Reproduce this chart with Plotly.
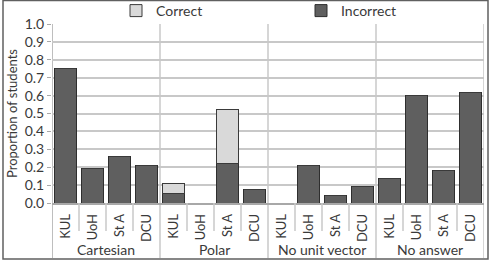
import plotly.graph_objects as go

groups = ["Cartesian", "Polar", "No unit vector", "No answer"]
schools = ["KUL", "UoH", "St A", "DCU"]
incorrect = [0.75, 0.19, 0.26, 0.21,
             0.055, 0.0, 0.22, 0.075,
             0.0, 0.21, 0.04, 0.095,
             0.135, 0.60, 0.18, 0.62]
correct = [0.0, 0.0, 0.0, 0.0,
           0.055, 0.0, 0.30, 0.0,
           0.0, 0.0, 0.0, 0.0,
           0.0, 0.0, 0.0, 0.0]
y_ticks = [0.0, 0.1, 0.2, 0.3, 0.4, 0.5, 0.6, 0.7, 0.8, 0.9, 1.0]

n_sub = len(schools)
xs = list(range(len(groups) * n_sub))
tick_text = schools * len(groups)

FONT = "Lato"
TXT = "#3a3a3a"
GRID = "#c8c8c8"

fig = go.Figure()
fig.add_trace(go.Bar(x=xs, y=incorrect, name="Incorrect",
                     marker=dict(color="#5f5f5f", line=dict(color="#2e2e2e", width=1))))
fig.add_trace(go.Bar(x=xs, y=correct, name="Correct",
                     marker=dict(color="#d9d9d9", line=dict(color="#3a3a3a", width=1))))

# plot-area geometry in pixels for paper conversions
L, R, T, B = 52, 8, 24, 57
W, H = 492, 260
pw, ph = W - L - R, H - T - B

def py(pix):
    return (H - B - pix) / ph

def px(pix):
    return (pix - L) / pw

shapes = []
# group boundaries (vertical gridlines extending through label area)
for i in range(len(groups) + 1):
    xb = i * n_sub - 0.5
    shapes.append(dict(type="line", xref="x", yref="paper", x0=xb, x1=xb,
                       y0=py(258), y1=1, line=dict(color=GRID if i > 0 else "#a8a8a8", width=1.5),
                       layer="below"))
# category separators within groups
for i in range(len(groups)):
    for j in range(1, n_sub):
        xb = i * n_sub + j - 0.5
        shapes.append(dict(type="line", xref="x", yref="paper", x0=xb, x1=xb,
                           y0=py(231), y1=0, line=dict(color=GRID, width=1.5)))
# outer chart border
shapes.append(dict(type="rect", xref="paper", yref="paper",
                   x0=px(3), x1=px(488), y0=py(259), y1=py(0.5),
                   line=dict(color="#606060", width=1.5)))

annotations = []
for i, g in enumerate(groups):
    annotations.append(dict(text=g, x=i * n_sub + (n_sub - 1) / 2, xref="x",
                            y=py(249), yref="paper", showarrow=False,
                            xanchor="center", yanchor="middle",
                            font=dict(family=FONT, size=14, color=TXT)))

fig.update_layout(
    width=W, height=H,
    margin=dict(l=L, r=R, t=T, b=B, autoexpand=False),
    paper_bgcolor="white", plot_bgcolor="white",
    barmode="stack", bargap=0.22,
    font=dict(family=FONT, size=13, color=TXT),
    shapes=shapes, annotations=annotations,
    showlegend=True,
    legend=dict(orientation="h", traceorder="reversed",
                x=px(116), xanchor="left", y=py(-5), yanchor="top",
                entrywidth=140, entrywidthmode="pixels",
                font=dict(family=FONT, size=14, color=TXT),
                bgcolor="rgba(0,0,0,0)"),
    xaxis=dict(range=[-0.5, len(xs) - 0.5], tickmode="array", tickvals=xs,
               ticktext=tick_text, tickangle=-90, ticks="", showgrid=False,
               showline=True, linecolor="#a8a8a8", linewidth=1.5,
               ticklabelstandoff=4, automargin=False,
               tickfont=dict(family=FONT, size=13, color=TXT), zeroline=False),
    yaxis=dict(range=[0, 1.0], tickmode="array", tickvals=y_ticks,
               ticktext=[f"{v:.1f}" for v in y_ticks],
               showgrid=True, gridcolor=GRID, gridwidth=1.5,
               ticks="outside", ticklen=4, tickcolor="#a8a8a8",
               showline=False, zeroline=False, automargin=False,
               title=dict(text="Proportion of students", standoff=4,
                          font=dict(family=FONT, size=13, color=TXT)),
               tickfont=dict(family=FONT, size=14, color=TXT)),
)

fig.write_html("out.html")
